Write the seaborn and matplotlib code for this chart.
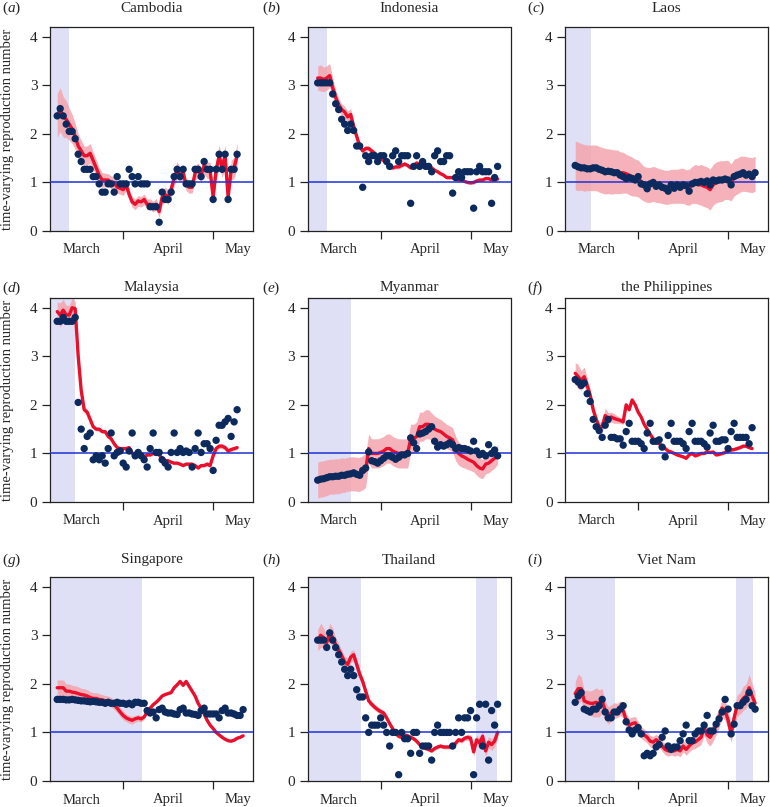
import numpy as np
import pandas as pd
import matplotlib
matplotlib.use('Agg')
import matplotlib.pyplot as plt
import seaborn as sns

sns.set_style('ticks')
plt.rcParams['font.family'] = ['Liberation Serif', 'DejaVu Serif']
plt.rcParams['mathtext.fontset'] = 'custom'
plt.rcParams['mathtext.rm'] = 'Liberation Serif'
plt.rcParams['mathtext.it'] = 'Liberation Serif:italic'

# days are counted from 1 March (31 = 1 April, 61 = 1 May)
countries = ['Cambodia', 'Indonesia', 'Laos', 'Malaysia', 'Myanmar',
             'the Philippines', 'Singapore', 'Thailand', 'Viet Nam']
tags = ['a', 'b', 'c', 'd', 'e', 'f', 'g', 'h', 'i']
first_day = [9, 10, 10, 9, 10, 10, 9, 10, 10]
shaded = [[(0, 13.0)], [(0, 13.2)], [(0, 15.3)], [(0, 15.1)], [(0, 21.2)], [],
          [(0, 37.3)], [(0, 24.3), (62.8, 69.7)], [(0, 23.4), (63.6, 69.4)]]

month_edges = [31, 61]
month_labels = ['March', 'April', 'May']
month_label_pos = [17.1, 46, 69.3]

# observed (dots), estimated Rt (red line), half width of the band
cambodia_obs = [2.37, 2.52, 2.37, 2.2, 2.05, 2.05, 1.9, 1.58, 1.43, 1.27,
                1.27, 1.27, 1.12, 1.12, 0.97, 0.8, 0.8, 0.97, 0.97, 0.8,
                1.12, 0.97, 0.97, 0.97, 1.27, 1.12, 0.97, 1.12, 0.97, 0.97,
                0.97, 0.5, 0.5, 0.5, 0.18, 0.8, 0.65, 0.65, 0.8, 1.12,
                1.27, 1.12, 1.27, 0.97, 0.97, 0.97, 1.27, 1.27, 1.12, 1.43,
                1.27, 1.27, 0.65, 1.27, 1.58, 1.27, 1.58, 0.65, 1.27, 1.27, 1.58]
cambodia_est = [2.38, 2.5, 2.35, 2.3, 2.2, 2.1, 1.95, 1.75, 1.65, 1.55,
                1.55, 1.6, 1.45, 1.3, 1.15, 1.05, 1.05, 1.05, 1.0, 1.0,
                0.9, 0.88, 0.85, 0.95, 0.75, 0.6, 0.55, 0.62, 0.6, 0.65,
                0.55, 0.55, 0.5, 0.55, 0.4, 0.7, 0.75, 0.7, 0.85, 1.1,
                1.25, 1.15, 1.2, 0.95, 0.9, 0.9, 1.2, 1.25, 1.15, 1.35,
                1.25, 1.25, 0.7, 1.25, 1.55, 1.3, 1.55, 0.7, 1.25, 1.3, 1.55]
cambodia_hw = [0.45, 0.45, 0.42, 0.38, 0.33, 0.3, 0.27, 0.25, 0.22, 0.2,
               0.2, 0.2, 0.18, 0.17, 0.15, 0.15, 0.14, 0.13, 0.13, 0.12,
               0.12, 0.12, 0.12, 0.12, 0.12, 0.11, 0.11, 0.11, 0.11, 0.11,
               0.11, 0.11, 0.11, 0.12, 0.12, 0.15, 0.15, 0.15, 0.15, 0.17,
               0.18, 0.15, 0.16, 0.12, 0.12, 0.12, 0.15, 0.15, 0.15, 0.18,
               0.17, 0.17, 0.15, 0.2, 0.22, 0.2, 0.22, 0.15, 0.2, 0.22, 0.25]

indonesia_obs = [3.05, 3.05, 3.05, 3.05, 3.05, 2.82, 2.62, 2.5, 2.3, 2.2,
                 2.07, 2.2, 2.07, 1.75, 1.75, 0.9, 1.55, 1.43, 1.55, 1.55,
                 1.43, 1.55, 1.55, 1.43, 1.33, 1.55, 1.65, 1.43, 1.55, 1.55,
                 1.55, 0.57, 1.33, 1.55, 1.33, 1.43, 1.33, 1.33, 1.22, 1.55,
                 1.65, 1.43, 1.43, 1.55, 1.55, 0.78, 1.1, 1.22, 1.1, 1.22,
                 1.22, 1.22, 0.47, 1.22, 1.33, 1.22, 1.22, 1.22, 0.57, 1.1, 1.33]
indonesia_est = [3.15, 3.15, 3.12, 3.15, 3.2, 2.95, 2.75, 2.6, 2.5, 2.45,
                 2.35, 2.4, 2.15, 1.95, 1.75, 1.65, 1.7, 1.7, 1.65, 1.6,
                 1.5, 1.5, 1.45, 1.4, 1.32, 1.3, 1.32, 1.32, 1.35, 1.38,
                 1.35, 1.3, 1.35, 1.4, 1.38, 1.35, 1.35, 1.3, 1.3, 1.25,
                 1.22, 1.18, 1.15, 1.1, 1.1, 1.1, 1.07, 1.05, 1.05, 1.02,
                 1.0, 0.99, 1.0, 1.03, 1.05, 1.05, 1.08, 1.08, 1.05, 1.05, 1.07]
indonesia_hw = [0.25, 0.27, 0.25, 0.25, 0.25, 0.2, 0.15, 0.13, 0.12, 0.12,
                0.12, 0.12, 0.1, 0.08, 0.07, 0.06, 0.06, 0.05, 0.05, 0.05,
                0.05, 0.05, 0.04, 0.04, 0.04, 0.04, 0.04, 0.04, 0.04, 0.04,
                0.04, 0.04, 0.04, 0.04, 0.04, 0.04, 0.04, 0.04, 0.04, 0.03,
                0.03, 0.03, 0.03, 0.03, 0.03, 0.03, 0.03, 0.03, 0.03, 0.03,
                0.03, 0.03, 0.03, 0.03, 0.03, 0.03, 0.03, 0.03, 0.03, 0.03, 0.03]

laos_obs = [1.35, 1.32, 1.3, 1.3, 1.28, 1.28, 1.3, 1.3, 1.27, 1.25,
            1.22, 1.23, 1.22, 1.2, 1.2, 1.15, 1.12, 1.08, 1.1, 1.08,
            1.05, 1.12, 0.97, 0.95, 0.87, 0.97, 1.0, 0.92, 0.95, 0.9,
            0.88, 0.82, 0.95, 0.88, 0.95, 0.9, 0.95, 0.93, 0.82, 0.97,
            1.0, 1.0, 1.02, 1.0, 1.03, 0.95, 1.05, 1.03, 1.05, 1.05,
            1.07, 1.05, 0.95, 1.12, 1.15, 1.17, 1.2, 1.15, 1.17, 1.12, 1.2]
laos_est = [1.35, 1.33, 1.32, 1.3, 1.3, 1.3, 1.3, 1.3, 1.27, 1.25,
            1.23, 1.23, 1.22, 1.22, 1.22, 1.2, 1.2, 1.18, 1.15, 1.12,
            1.1, 1.08, 1.02, 0.97, 0.95, 0.95, 0.97, 0.95, 0.93, 0.92,
            0.9, 0.9, 0.92, 0.92, 0.92, 0.93, 0.93, 0.9, 0.9, 0.95,
            0.97, 0.95, 0.95, 0.92, 0.9, 0.85, 0.95, 1.0, 1.02, 1.03,
            1.05, 1.05, 1.0, 1.1, 1.13, 1.17, 1.18, 1.17, 1.16, 1.15, 1.18]
laos_hw = [0.5, 0.5, 0.48, 0.48, 0.47, 0.47, 0.47, 0.47, 0.47, 0.47,
           0.47, 0.46, 0.46, 0.45, 0.45, 0.43, 0.42, 0.4, 0.4, 0.4,
           0.38, 0.38, 0.37, 0.36, 0.36, 0.36, 0.36, 0.36, 0.35, 0.35,
           0.35, 0.35, 0.35, 0.35, 0.35, 0.36, 0.36, 0.36, 0.37, 0.38,
           0.4, 0.4, 0.42, 0.42, 0.42, 0.42, 0.42, 0.42, 0.42, 0.42,
           0.4, 0.4, 0.38, 0.38, 0.37, 0.37, 0.36, 0.36, 0.36, 0.36, 0.36]

malaysia_obs = [3.72, 3.72, 3.8, 3.72, 3.72, 3.72, 3.8, 2.05, 1.5, 1.1,
                1.35, 1.42, 0.87, 0.95, 0.87, 0.95, 0.8, 1.1, 1.42, 0.95,
                1.02, 1.05, 0.8, 0.72, 1.05, 1.42, 0.95, 1.02, 0.95, 0.87,
                0.72, 1.1, 1.42, 1.02, 1.02, 0.87, 0.8, 0.72, 1.02, 1.42,
                1.02, 1.1, 1.02, 1.05, 1.02, 0.72, 1.1, 1.42, 1.02, 1.2,
                1.2, 1.1, 0.65, 1.27, 1.58, 1.58, 1.65, 1.72, 1.35, 1.65, 1.9]
malaysia_est = [3.92, 3.85, 3.95, 3.85, 3.85, 4.0, 3.98, 3.0, 2.3, 1.9,
                1.85, 1.7, 1.55, 1.5, 1.5, 1.45, 1.45, 1.35, 1.3, 1.2,
                1.12, 1.1, 1.1, 1.1, 1.12, 1.0, 1.0, 0.97, 0.95, 0.92,
                0.97, 0.97, 1.0, 1.0, 0.97, 0.9, 0.85, 0.85, 0.82, 0.8,
                0.8, 0.78, 0.75, 0.78, 0.78, 0.78, 0.75, 0.7, 0.75, 0.75,
                0.78, 0.75, 0.95, 1.1, 1.15, 1.15, 1.12, 1.05, 1.08, 1.1, 1.12]
malaysia_hw = [0.2, 0.25, 0.22, 0.2, 0.2, 0.2, 0.15, 0.1, 0.08, 0.07,
               0.06, 0.05, 0.05, 0.04, 0.04, 0.04, 0.04, 0.03, 0.03, 0.03,
               0.03, 0.03, 0.03, 0.03, 0.03, 0.03, 0.03, 0.03, 0.03, 0.03,
               0.03, 0.03, 0.03, 0.03, 0.03, 0.03, 0.03, 0.03, 0.03, 0.03,
               0.03, 0.03, 0.03, 0.03, 0.03, 0.03, 0.03, 0.03, 0.03, 0.03,
               0.04, 0.04, 0.04, 0.05, 0.05, 0.05, 0.05, 0.04, 0.04, 0.04, 0.04]

myanmar_obs = [0.45, 0.47, 0.48, 0.5, 0.52, 0.52, 0.53, 0.53, 0.55, 0.55,
               0.57, 0.58, 0.6, 0.57, 0.55, 0.65, 0.7, 1.03, 0.85, 0.83,
               0.8, 0.85, 0.9, 0.95, 0.95, 0.92, 0.88, 0.92, 0.97, 0.97,
               1.0, 1.32, 1.22, 1.1, 1.4, 1.42, 1.45, 1.5, 1.55, 1.25,
               1.13, 1.18, 1.15, 1.18, 1.22, 1.18, 1.1, 1.12, 1.1, 1.1,
               1.08, 1.05, 1.25, 1.05, 0.97, 1.0, 0.95, 1.18, 1.0, 1.07, 0.95]
myanmar_est = [0.45, 0.47, 0.48, 0.5, 0.52, 0.52, 0.53, 0.53, 0.55, 0.55,
               0.57, 0.58, 0.58, 0.57, 0.57, 0.6, 0.65, 1.1, 1.0, 1.0,
               1.0, 1.02, 1.05, 1.1, 1.1, 1.05, 1.02, 1.0, 1.0, 1.0,
               1.0, 1.3, 1.3, 1.35, 1.55, 1.55, 1.6, 1.6, 1.55, 1.5,
               1.47, 1.45, 1.4, 1.35, 1.32, 1.28, 1.1, 1.0, 0.95, 0.92,
               0.88, 0.85, 0.82, 0.75, 0.7, 0.68, 0.78, 0.8, 0.85, 0.9, 0.98]
myanmar_hw = [0.37, 0.37, 0.37, 0.37, 0.36, 0.36, 0.36, 0.36, 0.36, 0.35,
              0.35, 0.35, 0.35, 0.35, 0.35, 0.35, 0.35, 0.3, 0.3, 0.3,
              0.3, 0.3, 0.3, 0.3, 0.3, 0.3, 0.3, 0.3, 0.3, 0.3,
              0.3, 0.3, 0.3, 0.3, 0.3, 0.3, 0.3, 0.3, 0.28, 0.27,
              0.26, 0.25, 0.25, 0.25, 0.25, 0.25, 0.25, 0.24, 0.23, 0.22,
              0.21, 0.2, 0.2, 0.2, 0.2, 0.2, 0.2, 0.2, 0.2, 0.2, 0.2]

philippines_obs = [2.52, 2.47, 2.4, 2.45, 2.23, 2.07, 1.7, 1.55, 1.47, 1.33,
                   1.58, 1.7, 1.33, 1.33, 1.3, 1.3, 1.17, 1.45, 1.62, 1.25,
                   1.25, 1.25, 1.2, 1.1, 1.42, 1.62, 1.25, 1.25, 1.28, 1.13,
                   0.93, 1.37, 1.62, 1.25, 1.25, 1.25, 1.2, 1.1, 1.45, 1.62,
                   1.25, 1.25, 1.25, 1.2, 1.13, 1.42, 1.58, 1.25, 1.25, 1.28,
                   1.28, 1.1, 1.45, 1.62, 1.33, 1.33, 1.33, 1.33, 1.2, 1.53]
philippines_est = [2.65, 2.58, 2.5, 2.58, 2.4, 2.2, 1.9, 1.7, 1.55, 1.55,
                   1.78, 1.72, 1.75, 1.72, 1.7, 1.68, 1.65, 2.0, 1.9, 2.1,
                   2.0, 1.85, 1.75, 1.6, 1.5, 1.4, 1.3, 1.25, 1.2, 1.15,
                   1.1, 1.05, 1.03, 1.0, 0.97, 0.95, 0.93, 0.9, 0.97, 1.0,
                   0.95, 0.97, 1.0, 1.0, 1.03, 1.02, 1.03, 0.97, 0.98, 1.0,
                   1.02, 1.05, 1.07, 1.08, 1.1, 1.12, 1.15, 1.15, 1.12, 1.1]
philippines_hw = [0.22, 0.25, 0.2, 0.2, 0.15, 0.1, 0.1, 0.1, 0.08, 0.12,
                  0.15, 0.12, 0.1, 0.1, 0.08, 0.06, 0.05, 0.04, 0.04, 0.04,
                  0.03, 0.03, 0.03, 0.03, 0.03, 0.03, 0.03, 0.03, 0.03, 0.03,
                  0.03, 0.03, 0.03, 0.03, 0.03, 0.03, 0.03, 0.03, 0.03, 0.03,
                  0.03, 0.03, 0.03, 0.03, 0.03, 0.03, 0.03, 0.03, 0.03, 0.03,
                  0.03, 0.03, 0.03, 0.03, 0.03, 0.03, 0.03, 0.03, 0.03, 0.03]

singapore_obs = [1.68, 1.68, 1.68, 1.67, 1.67, 1.68, 1.67, 1.66, 1.65, 1.65,
                 1.64, 1.63, 1.64, 1.63, 1.62, 1.62, 1.6, 1.62, 1.6, 1.6,
                 1.62, 1.6, 1.6, 1.58, 1.6, 1.57, 1.62, 1.62, 1.6, 1.6,
                 1.45, 1.4, 1.42, 1.3, 1.47, 1.5, 1.42, 1.4, 1.4, 1.38,
                 1.37, 1.47, 1.5, 1.4, 1.4, 1.38, 1.37, 1.35, 1.45, 1.5,
                 1.38, 1.38, 1.38, 1.38, 1.3, 1.45, 1.5, 1.4, 1.4, 1.38,
                 1.35, 1.35, 1.47]
singapore_est = [1.92, 1.92, 1.92, 1.85, 1.85, 1.83, 1.82, 1.8, 1.78, 1.77,
                 1.75, 1.72, 1.7, 1.7, 1.68, 1.67, 1.65, 1.65, 1.62, 1.57,
                 1.5, 1.42, 1.35, 1.3, 1.27, 1.25, 1.28, 1.3, 1.28, 1.32,
                 1.42, 1.5, 1.57, 1.62, 1.68, 1.75, 1.78, 1.8, 1.82, 1.92,
                 1.98, 2.05, 1.97, 2.05, 1.95, 1.85, 1.75, 1.6, 1.5, 1.38,
                 1.25, 1.15, 1.08, 1.0, 0.95, 0.9, 0.86, 0.83, 0.82, 0.84,
                 0.88, 0.9, 0.93]
singapore_hw = [0.16, 0.16, 0.16, 0.15, 0.15, 0.14, 0.14, 0.14, 0.13, 0.13,
                0.13, 0.12, 0.12, 0.12, 0.12, 0.11, 0.11, 0.1, 0.1, 0.1,
                0.09, 0.09, 0.09, 0.08, 0.08, 0.08, 0.07, 0.07, 0.06, 0.05,
                0.02, 0.02, 0.02, 0.02, 0.02, 0.02, 0.02, 0.02, 0.02, 0.02,
                0.02, 0.02, 0.02, 0.02, 0.02, 0.02, 0.02, 0.02, 0.02, 0.02,
                0.02, 0.02, 0.02, 0.02, 0.02, 0.02, 0.02, 0.02, 0.02, 0.02,
                0.02, 0.02, 0.02]

thailand_obs = [2.9, 2.9, 2.9, 2.75, 3.05, 2.9, 2.75, 2.6, 2.45, 2.3,
                2.17, 2.3, 2.17, 1.88, 1.73, 1.73, 1.3, 1.0, 1.15, 1.15,
                1.15, 1.3, 1.15, 1.0, 0.72, 1.0, 1.0, 0.13, 1.0, 0.87,
                0.87, 0.57, 1.0, 1.0, 0.57, 0.72, 0.72, 0.72, 0.43, 1.0,
                1.15, 1.0, 1.0, 1.0, 1.0, 0.72, 1.0, 1.3, 1.0, 1.3,
                1.3, 1.45, 0.13, 1.3, 1.58, 0.72, 1.58, 0.43, 1.45, 1.15, 1.58]
thailand_est = [2.9, 3.0, 2.95, 2.85, 3.05, 2.95, 2.8, 2.7, 2.58, 2.45,
                2.4, 2.55, 2.6, 2.4, 2.2, 2.05, 1.85, 1.65, 1.58, 1.52,
                1.47, 1.43, 1.4, 1.3, 1.18, 1.08, 0.98, 0.92, 0.9, 0.95,
                0.93, 0.9, 0.87, 0.82, 0.75, 0.7, 0.67, 0.65, 0.62, 0.67,
                0.7, 0.72, 0.7, 0.7, 0.7, 0.72, 0.78, 0.85, 0.83, 0.88,
                0.9, 0.88, 0.6, 0.85, 0.78, 0.92, 0.62, 0.8, 0.75, 0.82, 1.0]
thailand_hw = [0.22, 0.25, 0.2, 0.15, 0.2, 0.2, 0.15, 0.13, 0.12, 0.12,
               0.12, 0.12, 0.1, 0.1, 0.1, 0.08, 0.07, 0.07, 0.06, 0.06,
               0.06, 0.06, 0.05, 0.05, 0.05, 0.05, 0.04, 0.04, 0.04, 0.04,
               0.04, 0.04, 0.04, 0.04, 0.04, 0.04, 0.04, 0.04, 0.04, 0.04,
               0.04, 0.04, 0.04, 0.04, 0.04, 0.05, 0.05, 0.05, 0.05, 0.05,
               0.06, 0.07, 0.1, 0.1, 0.1, 0.12, 0.12, 0.12, 0.12, 0.12, 0.12]

vietnam_obs = [1.62, 1.75, 1.82, 1.48, 1.45, 1.42, 1.48, 1.48, 1.55, 1.68,
               1.42, 1.3, 1.3, 1.42, 1.42, 1.48, 1.55, 1.22, 1.05, 0.97,
               1.05, 1.1, 0.97, 0.52, 0.57, 0.52, 0.57, 0.7, 0.75, 0.9,
               1.03, 0.72, 0.65, 0.7, 0.7, 0.83, 0.97, 1.15, 0.83, 0.83,
               0.97, 1.03, 1.03, 1.15, 1.35, 1.03, 1.03, 1.17, 1.28, 1.42,
               1.68, 1.48, 0.97, 1.17, 1.55, 1.55, 1.62, 1.68, 1.82, 1.55, 1.48]
vietnam_est = [1.8, 1.9, 1.9, 1.65, 1.62, 1.6, 1.6, 1.62, 1.6, 1.65,
               1.45, 1.35, 1.4, 1.45, 1.45, 1.5, 1.45, 1.25, 1.15, 1.18,
               1.2, 1.1, 1.0, 0.95, 0.9, 0.82, 0.8, 0.85, 0.8, 0.72,
               0.65, 0.62, 0.65, 0.62, 0.65, 0.62, 0.72, 0.65, 0.72, 0.78,
               0.8, 0.85, 0.9, 1.1, 0.95, 0.9, 1.0, 1.15, 1.3, 1.5,
               1.45, 1.25, 0.97, 1.3, 1.55, 1.6, 1.7, 1.75, 1.92, 1.75, 1.6]
vietnam_hw = [0.25, 0.3, 0.25, 0.22, 0.25, 0.25, 0.28, 0.3, 0.28, 0.25,
              0.2, 0.18, 0.17, 0.16, 0.15, 0.15, 0.15, 0.14, 0.14, 0.14,
              0.13, 0.13, 0.12, 0.12, 0.12, 0.12, 0.12, 0.11, 0.11, 0.11,
              0.11, 0.11, 0.11, 0.11, 0.12, 0.12, 0.12, 0.12, 0.12, 0.13,
              0.13, 0.14, 0.15, 0.16, 0.17, 0.18, 0.18, 0.2, 0.2, 0.2,
              0.2, 0.2, 0.18, 0.2, 0.22, 0.22, 0.25, 0.25, 0.28, 0.25, 0.22]

obs = [cambodia_obs, indonesia_obs, laos_obs, malaysia_obs, myanmar_obs,
       philippines_obs, singapore_obs, thailand_obs, vietnam_obs]
est = [cambodia_est, indonesia_est, laos_est, malaysia_est, myanmar_est,
       philippines_est, singapore_est, thailand_est, vietnam_est]
hw = [cambodia_hw, indonesia_hw, laos_hw, malaysia_hw, myanmar_hw,
      philippines_hw, singapore_hw, thailand_hw, vietnam_hw]

W, H = 770, 807
fig = plt.figure(figsize=(W / 100, H / 100), dpi=100)

lefts = [50, 307.5, 565]
tops = [27, 298, 577]
title_y = [8, 288, 560]
tag_x = [2, 262, 527]
aw, ah = 203, 204

shade_col = '#dfe0f5'
band_col = '#f4a5ae'
red = '#e8102c'
navy = '#0c2a5e'
blue = '#1f32d6'

for k, name in enumerate(countries):
    r, c = divmod(k, 3)
    ax = fig.add_axes([lefts[c] / W, 1 - (tops[r] + ah) / H, aw / W, ah / H])

    df = pd.DataFrame({'day': first_day[k] + np.arange(len(est[k])),
                       'est': est[k], 'hw': hw[k]})
    dots = pd.DataFrame({'day': first_day[k] + np.arange(len(obs[k])),
                         'obs': obs[k]})

    for x0, x1 in shaded[k]:
        ax.axvspan(x0, x1, color=shade_col, lw=0, zorder=0)
    ax.fill_between(df['day'], df['est'] - df['hw'], df['est'] + df['hw'],
                    color=band_col, lw=0, alpha=0.85, zorder=1)
    sns.lineplot(data=df, x='day', y='est', ax=ax, color=red, lw=2.4, zorder=2)
    ax.axhline(1, color=blue, lw=1.1, zorder=3)
    sns.scatterplot(data=dots, x='day', y='obs', ax=ax, color=navy, s=28,
                    edgecolor='none', zorder=4)

    ax.set_xlim(6.6, 74.3)
    ax.set_ylim(0, 4.2)
    ax.set_yticks([0, 1, 2, 3, 4])
    ax.set_xticks(month_edges)
    ax.set_xticklabels([])
    ax.set_xticks(month_label_pos, minor=True)
    ax.set_xticklabels(month_labels, minor=True)
    ax.tick_params(axis='both', which='major', direction='out', length=6,
                   width=0.9, labelsize=11, pad=3, color='#222222')
    ax.tick_params(axis='x', which='minor', length=0, labelsize=10.5, pad=9)
    ax.set_xlabel('')
    ax.set_ylabel('')
    for sp in ax.spines.values():
        sp.set_linewidth(0.9)
        sp.set_color('#222222')

    cx = (lefts[c] + aw / 2) / W
    fig.text(cx, 1 - title_y[r] / H, name, ha='center', va='center', fontsize=11)
    fig.text(tag_x[c] / W, 1 - title_y[r] / H, '($' + tags[k] + '$)',
             ha='left', va='center', fontsize=11)
    if c == 0:
        fig.text(8 / W, 1 - (tops[r] + ah / 2) / H,
                 'time-varying reproduction number', rotation=90,
                 ha='center', va='center', fontsize=10.5)

fig.savefig('out.png', dpi=100)
